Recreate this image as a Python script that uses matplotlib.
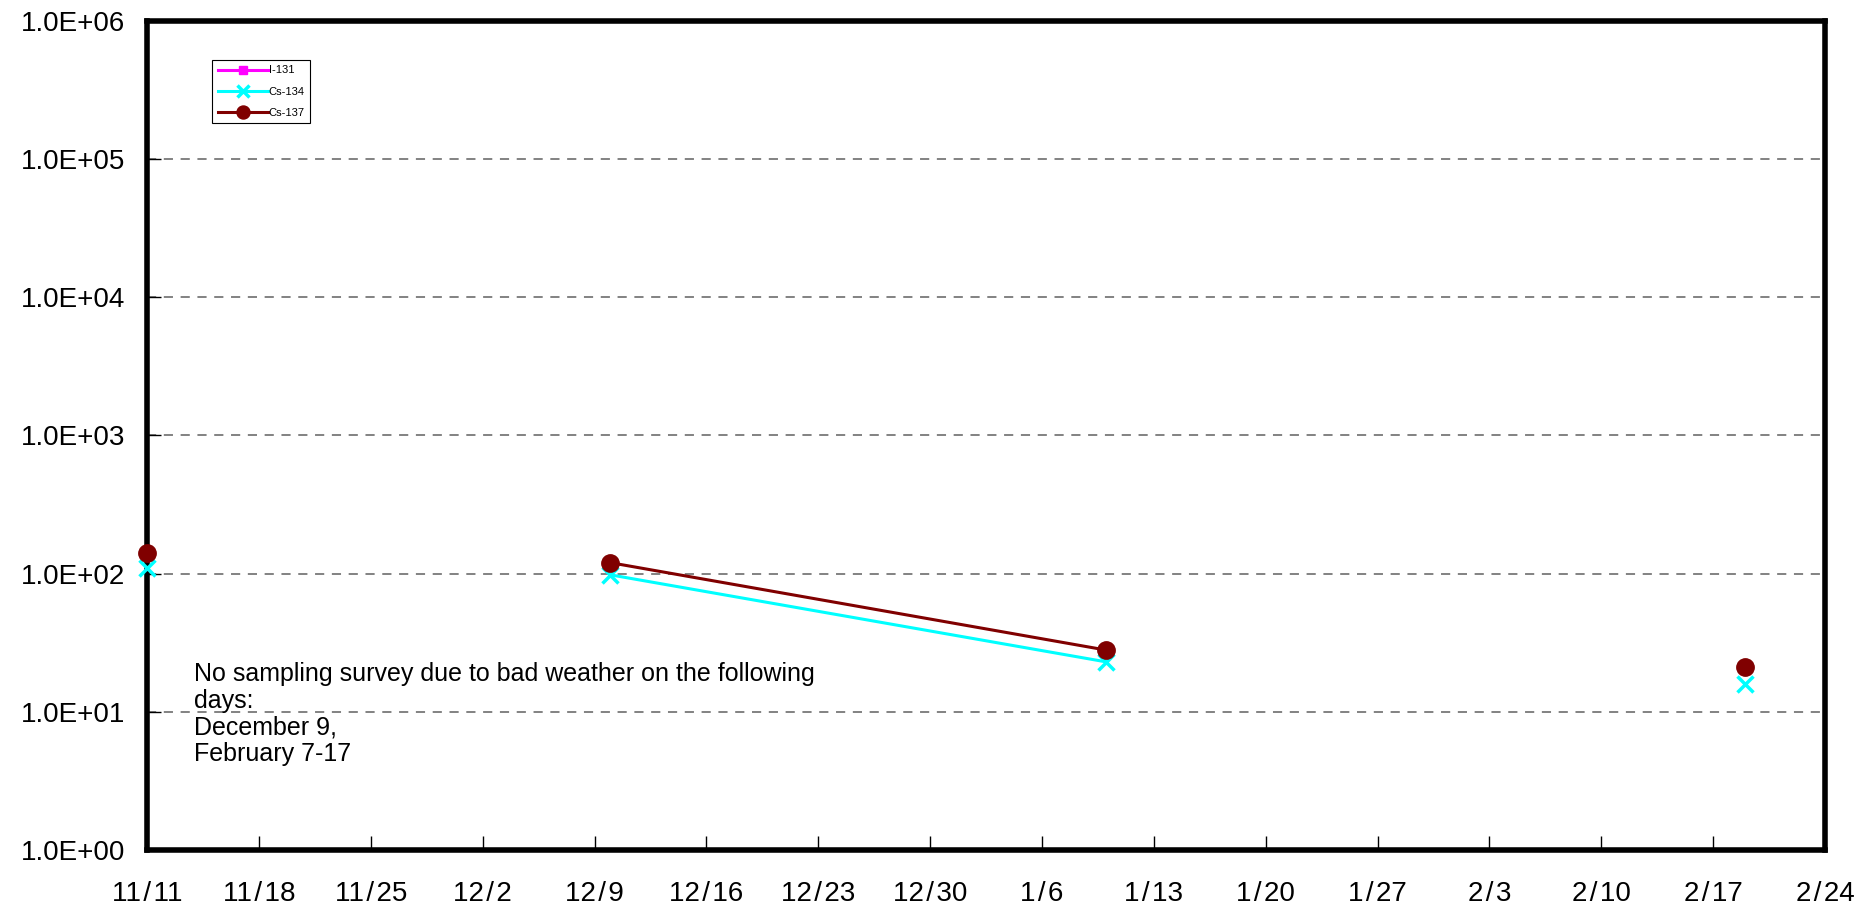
import numpy as np
import matplotlib
matplotlib.use("Agg")
import matplotlib.pyplot as plt
import matplotlib.dates as mdates
from matplotlib.ticker import FuncFormatter, FixedLocator, NullLocator
from datetime import datetime

plt.rcParams['font.family'] = ['Liberation Sans', 'DejaVu Sans']

# --- data (log scale) ---
# nan = no sample that day -> breaks the line
sample_dates = ["2011-11-11", "2011-12-09", "2011-12-10", "2012-01-10", "2012-02-07", "2012-02-19"]
i131 = [np.nan, np.nan, np.nan, np.nan, np.nan, np.nan]
cs134 = [110, np.nan, 98, 23, np.nan, 16]
cs137 = [141, np.nan, 120, 28, np.nan, 21]

tick_dates = ["2011-11-11", "2011-11-18", "2011-11-25", "2011-12-02", "2011-12-09",
              "2011-12-16", "2011-12-23", "2011-12-30", "2012-01-06", "2012-01-13",
              "2012-01-20", "2012-01-27", "2012-02-03", "2012-02-10", "2012-02-17",
              "2012-02-24"]
tick_labels = ["11/11", "11/18", "11/25", "12/2", "12/9", "12/16", "12/23", "12/30",
               "1/6", "1/13", "1/20", "1/27", "2/3", "2/10", "2/17", "2/24"]

note = ("No sampling survey due to bad weather on the following\n"
        "days:\nDecember 9,\nFebruary 7-17")

x = mdates.date2num([datetime.strptime(d, "%Y-%m-%d") for d in sample_dates])
xt = mdates.date2num([datetime.strptime(d, "%Y-%m-%d") for d in tick_dates])

fig = plt.figure(figsize=(18.76, 9.08), dpi=100)
ax = fig.add_axes([0.0784, 0.0639, 0.8944, 0.913])

ax.plot(x, i131, color='#FF00FF', lw=2.2, marker='s', ms=7, label='I-131', clip_on=False)
ax.plot(x, cs134, color='#00FFFF', lw=2.2, marker='x', ms=11, mew=2.5, label='Cs-134', clip_on=False)
ax.plot(x, cs137, color='#800000', lw=2.2, marker='o', ms=12.5, label='Cs-137', clip_on=False)

ax.set_yscale('log')
ax.set_ylim(1, 1e6)
ax.set_xlim(xt[0], xt[-1])

ax.yaxis.set_major_locator(FixedLocator([10.0 ** k for k in range(7)]))
ax.yaxis.set_minor_locator(NullLocator())
ax.yaxis.set_major_formatter(FuncFormatter(lambda v, p: f"{v:.1E}"))
ax.set_xticks(xt)
# excel spaces the slash out a bit
ax.set_xticklabels([t.replace('/', '\u200a/\u200a') for t in tick_labels])

ax.tick_params(axis='both', direction='in', length=10, width=1, labelsize=20, color='black')
ax.tick_params(axis='y', pad=16)
ax.tick_params(axis='x', pad=22)

ax.grid(axis='y', which='major', color='#606060', ls=(0, (6, 5)), lw=1.1)
ax.set_axisbelow(True)
for s in ax.spines.values():
    s.set_linewidth(4)
    s.set_color('black')
    s.set_zorder(1)

ax.text(0.0281, 0.227, note, transform=ax.transAxes, fontsize=18, va='top', ha='left',
        linespacing=1.15)

leg = ax.legend(loc='upper left', bbox_to_anchor=(0.0387, 0.953), borderaxespad=0,
                fontsize=8, handlelength=4.5, frameon=True, fancybox=False,
                edgecolor='black', framealpha=1, labelspacing=1.0, handletextpad=0.1,
                borderpad=0.5, markerscale=0.75)
leg.get_frame().set_linewidth(0.8)

fig.savefig("out.png", dpi=100)
